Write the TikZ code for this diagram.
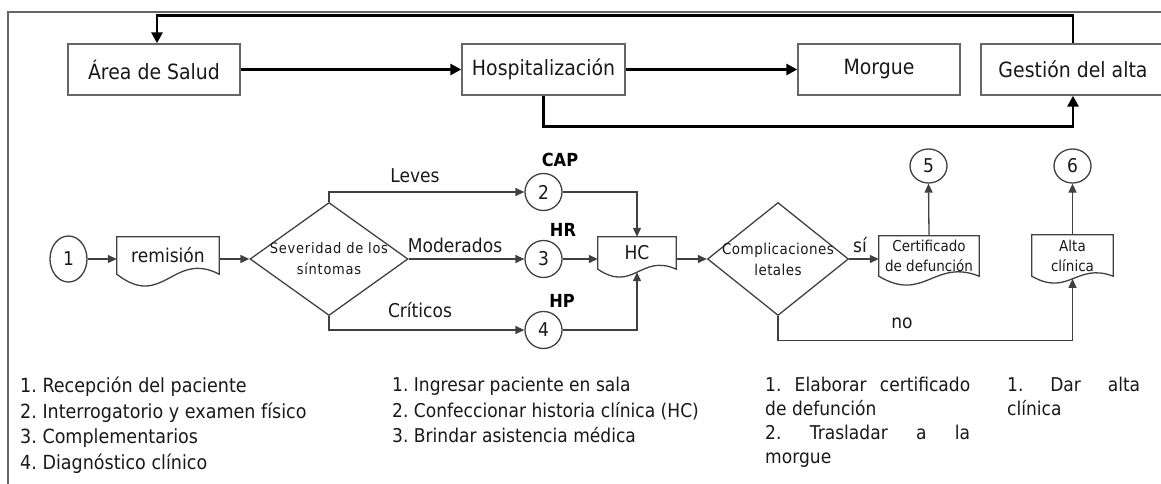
\documentclass[tikz,border=0pt]{standalone}
\usepackage{fontspec}
\setmainfont[FakeStretch=0.9]{DejaVu Sans}
\newfontfamily\spacedfont[FakeStretch=0.9,LetterSpace=5]{DejaVu Sans}
\newfontfamily\widefont[FakeStretch=0.9,LetterSpace=3]{DejaVu Sans}
\frenchspacing
\usetikzlibrary{arrows.meta,shapes.geometric,calc}
\tikzset{
  topbox/.style={draw=black!60,line width=1.4pt,minimum height=51pt,inner sep=0pt,
    font=\fontsize{21}{24}\selectfont,text=black!90},
  bigarrow/.style={line width=2.8pt,-{Triangle[length=11pt,width=11pt]}},
  flow/.style={draw=black!75,line width=1.3pt},
  arr/.style={flow,-{Triangle[length=9pt,width=8pt]}},
  circ/.style={ellipse,draw=black!75,line width=1.3pt,inner sep=0pt,minimum width=37pt,
    font=\fontsize{19}{20}\selectfont,text=black!90},
  docbox/.style={inner sep=0pt,align=center,text=black!90},
  dec/.style={diamond,draw=black!75,line width=1.3pt,inner sep=0pt,align=center,text=black!90},
  lbl/.style={font=\fontsize{19}{20}\selectfont,text=black!90},
  boldlbl/.style={font=\bfseries\fontsize{18}{20}\selectfont},
  note/.style={anchor=north west,align=left,inner sep=0pt,text=black!90},
}
\newcommand\docshape[2]{%
  \draw[flow] (#1.south west) -- (#1.north west) -- (#1.north east) -- (#1.south east)
    .. controls ($(#1.south west)!0.55!(#1.south east)+(0,-2*#2)$) and
                ($(#1.south west)!0.45!(#1.south east)+(0,3*#2)$) ..
    coordinate[pos=0.5] (#1-w) (#1.south west) -- cycle;}
\newcommand\zw[1]{\makebox[0pt]{#1}}
\begin{document}
\begin{tikzpicture}[x=1pt,y=-1pt]
\useasboundingbox (0,0) rectangle (1161,484);
% outer frame
\draw[black!60,line width=2pt] (8,486) -- (8,12) -- (1163,12);

% top row
\node[topbox,minimum width=172pt] (area) at (154,69.5) {Área de Salud};
\node[topbox,minimum width=163pt] (hosp) at (543.5,69.5) {Hospitalización};
\node[topbox,minimum width=162pt] (morgue) at (879,69.5) {Morgue};
\node[topbox,minimum width=184pt] (gest) at (1073,69.5) {Gestión del alta};

\draw[bigarrow] (area.east) -- (hosp.west);
\draw[bigarrow] (hosp.east) -- (morgue.west);
\draw[bigarrow] (gest.north) -- ++(0,-28) -| ([xshift=3pt]area.north);
\draw[bigarrow] (hosp.south) -- ++(0,31) -| (gest.south);

% second row
\node[circ,minimum height=46pt] (c1) at (68.5,259) {1};
\node[docbox,minimum width=102pt,minimum height=37pt,font=\fontsize{19}{20}\selectfont] (rem) at (168,255.5) {remisión};
\docshape{rem}{12}
\node[dec,minimum width=158pt,minimum height=113pt,
  font=\spacedfont\fontsize{14.5}{21}\selectfont] (sev) at (329,259) {\zw{Severidad de los}\\\zw{síntomas}};

\node[circ,minimum height=37pt] (c2) at (543.5,192) {2};
\node[circ,minimum height=37pt] (c3) at (543.5,259) {3};
\node[circ,minimum height=37pt] (c4) at (543.5,330) {4};

\node[docbox,minimum width=78pt,minimum height=32pt,font=\fontsize{19}{20}\selectfont] (hc) at (637,253) {HC};
\docshape{hc}{8}

\node[dec,minimum width=141pt,minimum height=113pt,
  font=\widefont\fontsize{15}{21}\selectfont] (comp) at (778,259) {\zw{Complicaciones}\\\zw{letales}};

\node[docbox,minimum width=100pt,minimum height=40pt,font=\fontsize{15}{20}\selectfont] (cert) at (929,256) {Certificado\\de defunción};
\docshape{cert}{9}
\node[docbox,minimum width=81pt,minimum height=41pt,font=\fontsize{15}{20}\selectfont] (alta) at (1072.5,255.5) {Alta\\clínica};
\docshape{alta}{7}

\node[circ,minimum height=34pt] (c5) at (928.5,166) {5};
\node[circ,minimum height=34pt] (c6) at (1072.5,166) {6};

% connectors
\draw[arr] (c1.east) -- (c1.east -| rem.west);
\draw[arr] (rem.east |- sev.west) -- (sev.west);
\draw[arr] (sev.north) |- (c2.west);
\draw[arr] (sev.east) -- (c3.west);
\draw[arr] (sev.south) |- (c4.west);
\draw[arr] (c2.east) -| (hc.north);
\draw[arr] (c3.east) -- (c3.east -| hc.west);
\draw[arr] (c4.east) -| (hc-w);
\draw[arr] (hc.east |- comp.west) -- (comp.west);
\draw[arr] (comp.east) -- (comp.east -| cert.west);
\draw[arr] (cert.north) -- (c5.south);
\draw[arr] (alta.north) -- (c6.south);
\draw[arr] (comp.south) -- ++(0,24) -| (alta-w);

% labels
\node[lbl] (lleves) at (415,176) {Leves};
\node[lbl] (lmod) at (455,245) {Moderados};
\node[lbl] (lcrit) at (420,310) {Críticos};
\node[boldlbl] (lcap) at (560,160) {CAP};
\node[boldlbl] (lhr) at (563,230) {HR};
\node[boldlbl] (lhp) at (562,301) {HP};
\node[lbl] (lsi) at (860,245) {sí};
\node[lbl] (lno) at (902,323) {no};

% notes
\node[note,font=\fontsize{19.5}{25.5}\selectfont] (n1) at (20,377) {1. Recepción del paciente\\2. Interrogatorio y examen físico\\3. Complementarios\\4. Diagnóstico clínico};
\node[note,font=\fontsize{19}{25.5}\selectfont] (n2) at (392,377) {1. Ingresar paciente en sala\\2. Confeccionar historia clínica (HC)\\3. Brindar asistencia médica};
\node[note,font=\fontsize{19}{24}\selectfont] (n3) at (765,377) {\makebox[205pt][s]{1. Elaborar certificado}\\de defunción\\\makebox[205pt][s]{2. Trasladar a la}\\morgue};
\node[note,font=\fontsize{19}{24}\selectfont] (n4) at (1007,377) {\makebox[133pt][s]{1. Dar alta}\\clínica};
\end{tikzpicture}
\end{document}
